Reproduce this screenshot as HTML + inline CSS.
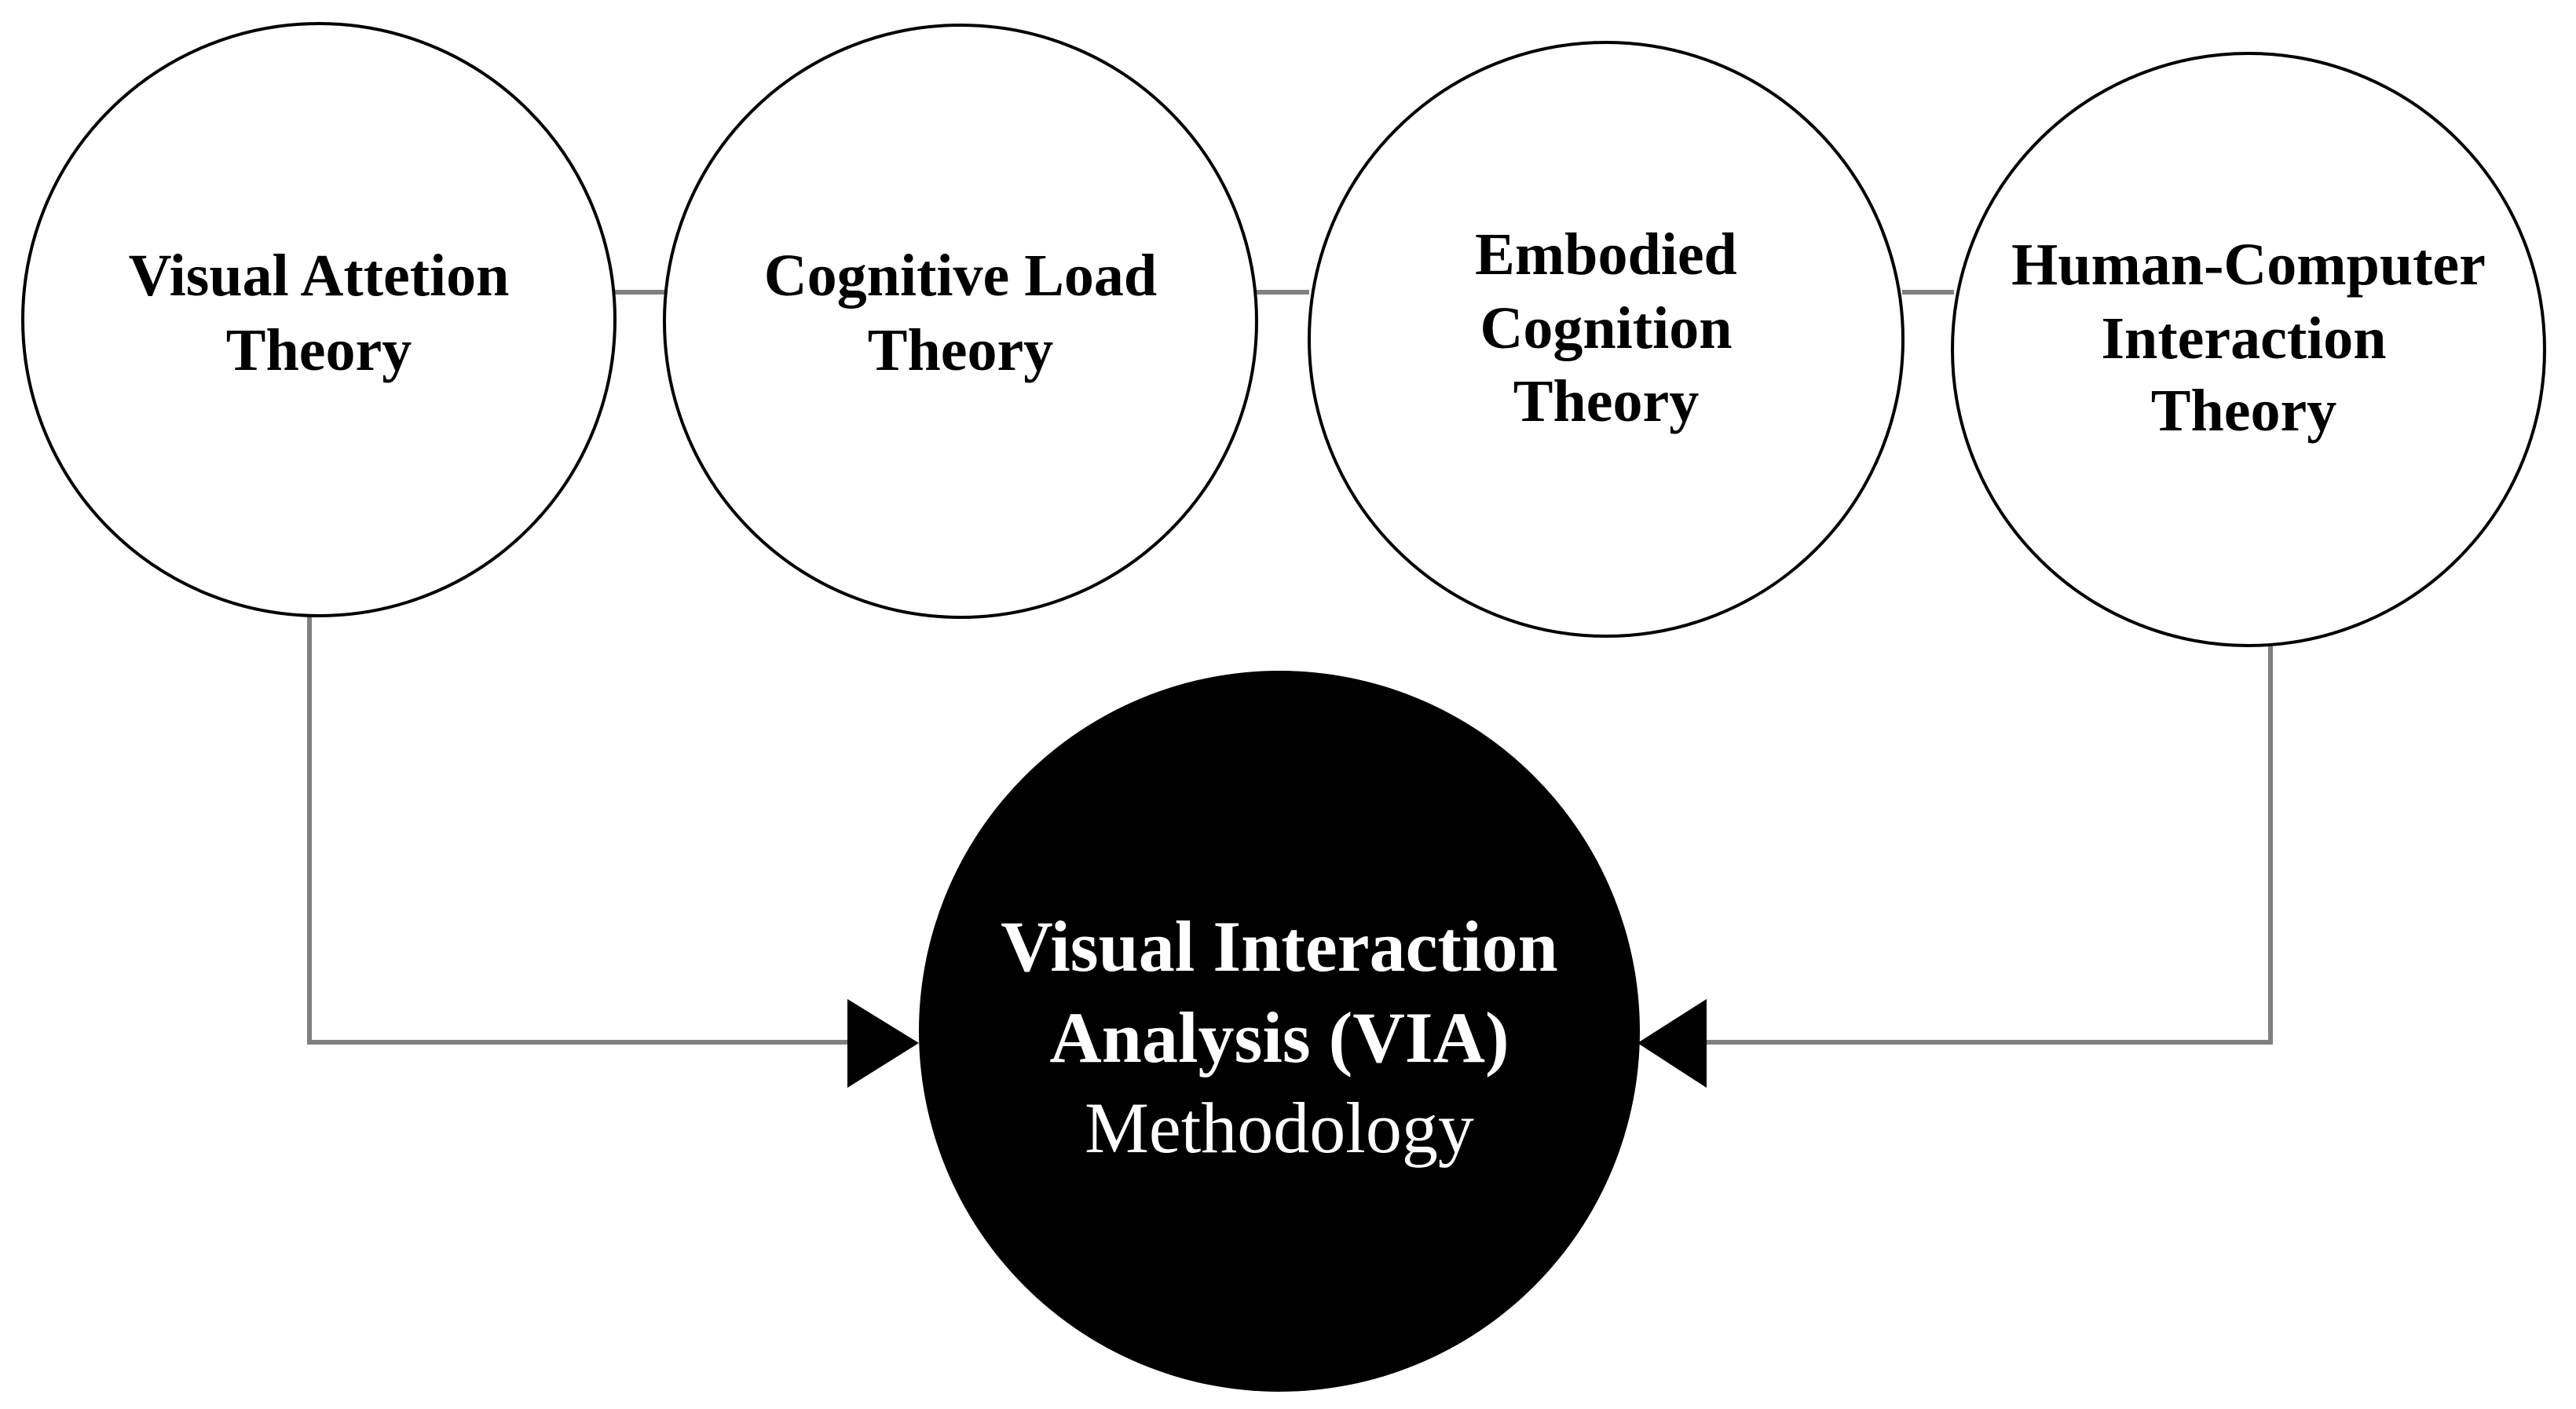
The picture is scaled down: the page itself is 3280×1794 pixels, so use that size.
<!DOCTYPE html>
<html><head><meta charset="utf-8"><style>
html,body{margin:0;padding:0;background:#fff;}
svg{display:block;}
text{font-family:"Liberation Serif",serif;text-anchor:middle;}
.b{font-weight:bold;font-size:76px;fill:#000;}
.w{font-size:92px;fill:#fff;}
</style></head><body>
<svg width="3280" height="1794" viewBox="0 0 3280 1794" xmlns="http://www.w3.org/2000/svg">
<g stroke="#808080" stroke-width="6" fill="none">
<line x1="783" y1="372" x2="847" y2="372"/>
<line x1="1600" y1="372" x2="1667" y2="372"/>
<line x1="2422" y1="372" x2="2488" y2="372"/>
<polyline points="394,784 394,1327 1080,1327"/>
<polyline points="2891,823 2891,1327 2173,1327"/>
</g>
<g fill="#fff" stroke="#000" stroke-width="4">
<circle cx="406" cy="407" r="377"/>
<circle cx="1223" cy="409" r="377"/>
<circle cx="2045" cy="432" r="378"/>
<circle cx="2863" cy="445" r="377"/>
</g>
<circle cx="1629" cy="1313" r="459" fill="#000"/>
<polygon points="1079,1272 1079,1385 1170,1328" fill="#000"/>
<polygon points="2173,1272 2173,1385 2085,1328" fill="#000"/>
<text class="b" x="406" y="376">Visual Attetion</text>
<text class="b" x="406" y="471">Theory</text>
<text class="b" x="1223" y="376">Cognitive Load</text>
<text class="b" x="1223" y="471">Theory</text>
<text class="b" x="2045" y="349">Embodied</text>
<text class="b" x="2045" y="443">Cognition</text>
<text class="b" x="2045" y="536">Theory</text>
<text class="b" x="2863" y="362">Human-Computer</text>
<text class="b" x="2857" y="456">Interaction</text>
<text class="b" x="2857" y="548">Theory</text>
<text class="w" x="1629" y="1236" font-weight="bold">Visual Interaction</text>
<text class="w" x="1629" y="1352" font-weight="bold">Analysis (VIA)</text>
<text class="w" x="1629" y="1467">Methodology</text>
</svg>
</body></html>
